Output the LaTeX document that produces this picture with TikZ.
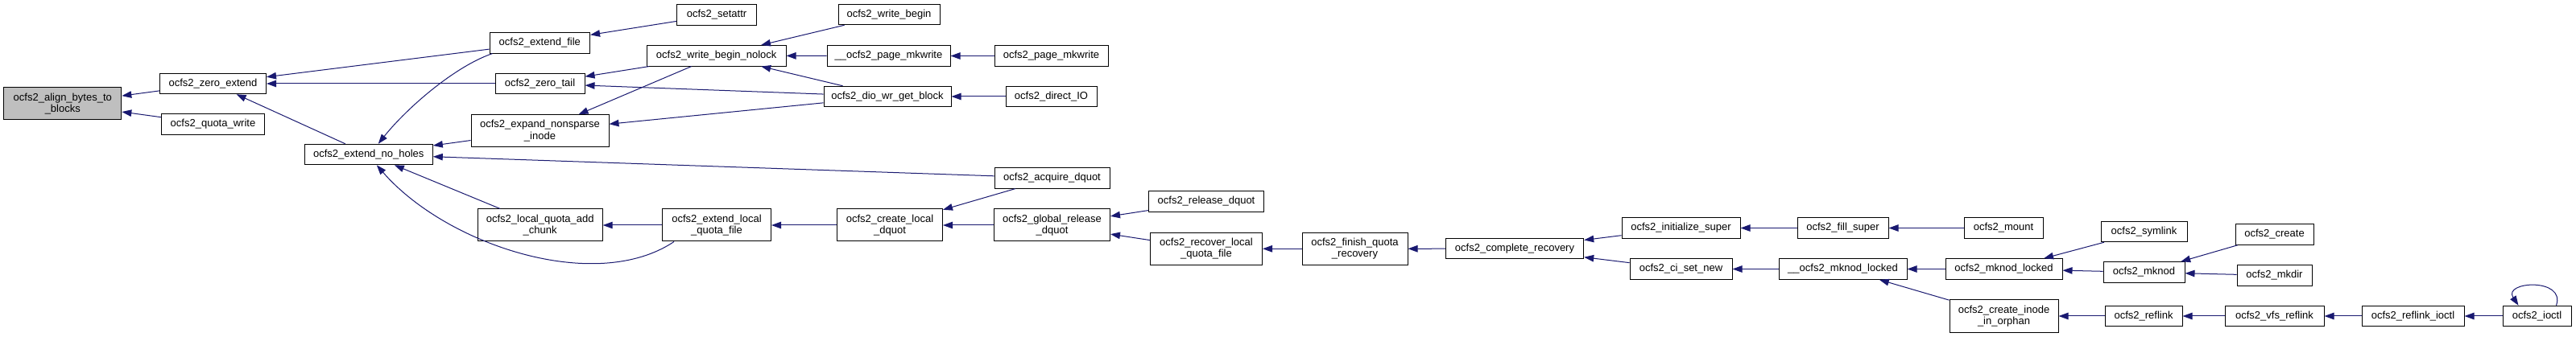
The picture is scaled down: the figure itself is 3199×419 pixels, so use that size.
\documentclass[tikz,border=0pt]{standalone}
\usepackage{fontspec}
\setmainfont{Liberation Sans}
\usetikzlibrary{arrows.meta}
\definecolor{edgeblue}{RGB}{25,25,112}
\definecolor{rootgray}{RGB}{191,191,191}
\begin{document}
\begin{tikzpicture}[x=1pt,y=-1pt,
  fn/.style={draw=black,line width=1pt,fill=white,rectangle,inner sep=0pt,
    minimum height=25.5pt,align=center,font=\fontsize{13}{14.5}\selectfont},
  fn2/.style={fn,minimum height=40pt},
  edge/.style={draw=edgeblue,line width=1pt,-{Triangle[length=12pt,width=8.5pt]}}]
\fill[white] (0,0) rectangle (3199,419);
\useasboundingbox (0,0) rectangle (3199,419);
% column 0
\node[fn2,fill=rootgray,minimum width=146pt] (align) at (77.8,129) {ocfs2\_align\_bytes\_to\\\_blocks};
% column 1
\node[fn,minimum width=132pt] (zext) at (264.5,104) {ocfs2\_zero\_extend};
\node[fn,minimum width=128pt] (qwrite) at (264.5,154.5) {ocfs2\_quota\_write};
% column 2
\node[fn,minimum width=159pt] (noholes) at (457.8,192) {ocfs2\_extend\_no\_holes};
% column 3
\node[fn,minimum width=124.5pt] (extfile) at (670.3,53.3) {ocfs2\_extend\_file};
\node[fn,minimum width=111pt] (ztail) at (670.5,104) {ocfs2\_zero\_tail};
\node[fn2,minimum width=171pt] (expand) at (670.5,162.7) {ocfs2\_expand\_nonsparse\\\_inode};
\node[fn2,minimum width=155pt] (chunk) at (670.7,280) {ocfs2\_local\_quota\_add\\\_chunk};
% column 4
\node[fn,minimum width=99pt] (setattr) at (890,18.5) {ocfs2\_setattr};
\node[fn,minimum width=172.6pt] (wbn) at (889.7,69.3) {ocfs2\_write\_begin\_nolock};
\node[fn2,minimum width=135pt] (extlocal) at (890,280) {ocfs2\_extend\_local\\\_quota\_file};
% column 5
\node[fn,minimum width=126pt] (wbegin) at (1104,18) {ocfs2\_write\_begin};
\node[fn,minimum width=153pt] (pmkb) at (1103.5,69.5) {\_\_ocfs2\_page\_mkwrite};
\node[fn,minimum width=158pt] (dio) at (1102,120) {ocfs2\_dio\_wr\_get\_block};
\node[fn2,minimum width=131pt] (createlocal) at (1105,280) {ocfs2\_create\_local\\\_dquot};
% column 6
\node[fn,minimum width=141pt] (pmk) at (1305.5,69.5) {ocfs2\_page\_mkwrite};
\node[fn,minimum width=113pt] (directio) at (1305.5,120) {ocfs2\_direct\_IO};
\node[fn,minimum width=143pt] (acquire) at (1306.5,221.3) {ocfs2\_acquire\_dquot};
\node[fn2,minimum width=144pt] (globalrel) at (1306.5,280) {ocfs2\_global\_release\\\_dquot};
% column 7
\node[fn,minimum width=143pt] (release) at (1498,250.5) {ocfs2\_release\_dquot};
\node[fn2,minimum width=139pt] (recover) at (1498,309.3) {ocfs2\_recover\_local\\\_quota\_file};
% column 8
\node[fn2,minimum width=131pt] (finish) at (1682.5,309.3) {ocfs2\_finish\_quota\\\_recovery};
% column 9
\node[fn,minimum width=171.4pt] (complete) at (1881,309.2) {ocfs2\_complete\_recovery};
% column 10
\node[fn,minimum width=147pt] (initsuper) at (2087.5,283.5) {ocfs2\_initialize\_super};
\node[fn,minimum width=127pt] (cisetnew) at (2087.5,334.5) {ocfs2\_ci\_set\_new};
% column 11
\node[fn,minimum width=113pt] (fillsuper) at (2288.5,283.5) {ocfs2\_fill\_super};
\node[fn,minimum width=159pt] (mknodlockedb) at (2288.5,334.5) {\_\_ocfs2\_mknod\_locked};
% column 12
\node[fn,minimum width=98pt] (mount) at (2488,283.5) {ocfs2\_mount};
\node[fn,minimum width=145pt] (mknodlocked) at (2488.5,334.5) {ocfs2\_mknod\_locked};
\node[fn2,minimum width=135pt] (orphan) at (2488.5,393) {ocfs2\_create\_inode\\\_in\_orphan};
% column 13
\node[fn,minimum width=107pt] (symlink) at (2662.5,288) {ocfs2\_symlink};
\node[fn,minimum width=101pt] (mknod) at (2662.5,338.5) {ocfs2\_mknod};
\node[fn,minimum width=96pt] (reflink) at (2662,393) {ocfs2\_reflink};
% column 14
\node[fn,minimum width=97pt] (create) at (2824.5,291.5) {ocfs2\_create};
\node[fn,minimum width=93pt] (mkdir) at (2824.5,342.5) {ocfs2\_mkdir};
\node[fn,minimum width=123pt] (vfsreflink) at (2824.5,393) {ocfs2\_vfs\_reflink};
% column 15, 16
\node[fn,minimum width=127pt] (reflinkioctl) at (2996.5,393) {ocfs2\_reflink\_ioctl};
\node[fn,minimum width=85pt] (ioctl) at (3150.5,393) {ocfs2\_ioctl};
% edges (caller -> callee, arrow at callee)
\draw[edge] (zext) -- (align);
\draw[edge] (qwrite) -- (align);
\draw[edge] (extfile) -- (zext);
\draw[edge] (ztail) -- (zext);
\draw[edge] (noholes) -- (zext);
\draw[edge] ([xshift=4pt]extfile.south west) .. controls +(-47,16) and +(35,-44) .. ([xshift=12pt]noholes.north);
\draw[edge] (expand) -- (noholes);
\draw[edge] (acquire) -- (noholes);
\draw[edge] (chunk) -- (noholes);
\draw[edge] ([xshift=15pt]extlocal.south west) .. controls +(-97,65) and +(87,100) .. ([xshift=10pt]noholes.south);
\draw[edge] (wbn) -- (ztail);
\draw[edge] (dio) -- (ztail);
\draw[edge] (wbn) -- (expand);
\draw[edge] (dio) -- (expand);
\draw[edge] (setattr) -- (extfile);
\draw[edge] (wbegin) -- (wbn);
\draw[edge] (pmkb) -- (wbn);
\draw[edge] (dio) -- (wbn);
\draw[edge] (pmk) -- (pmkb);
\draw[edge] (directio) -- (dio);
\draw[edge] (extlocal) -- (chunk);
\draw[edge] (createlocal) -- (extlocal);
\draw[edge] (acquire) -- (createlocal);
\draw[edge] (globalrel) -- (createlocal);
\draw[edge] (release) -- (globalrel);
\draw[edge] (recover) -- (globalrel);
\draw[edge] (finish) -- (recover);
\draw[edge] (complete) -- (finish);
\draw[edge] (initsuper) -- (complete);
\draw[edge] (cisetnew) -- (complete);
\draw[edge] (fillsuper) -- (initsuper);
\draw[edge] (mount) -- (fillsuper);
\draw[edge] (mknodlockedb) -- (cisetnew);
\draw[edge] (mknodlocked) -- (mknodlockedb);
\draw[edge] (orphan) -- (mknodlockedb);
\draw[edge] (symlink) -- (mknodlocked);
\draw[edge] (mknod) -- (mknodlocked);
\draw[edge] (reflink) -- (orphan);
\draw[edge] (create) -- (mknod);
\draw[edge] (mkdir) -- (mknod);
\draw[edge] (vfsreflink) -- (reflink);
\draw[edge] (reflinkioctl) -- (vfsreflink);
\draw[edge] (ioctl) -- (reflinkioctl);
\draw[edge] ([xshift=24pt]ioctl.north) .. controls +(12,-35) and +(-20,-30) .. ([xshift=-23pt]ioctl.north);
\end{tikzpicture}
\end{document}
